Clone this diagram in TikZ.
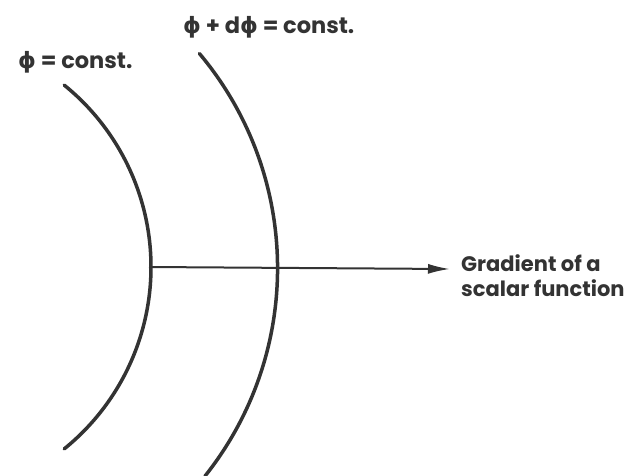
\documentclass[tikz,border=0pt]{standalone}
\usepackage{fontspec}
\setmainfont{Poppins}
\newfontfamily\gr{DejaVu Sans}
\usetikzlibrary{arrows.meta}
\definecolor{ink}{HTML}{333333}
\begin{document}
\begin{tikzpicture}[x=1pt,y=-1pt,
  surface/.style={draw=ink,line width=3.5pt,line cap=round},
  label/.style={text=ink,font=\fontsize{22.5}{25}\selectfont\bfseries,inner sep=0pt},
  grad/.style={draw=ink,line width=2pt,-{Latex[length=22pt,width=10pt]}}]
\useasboundingbox[fill=white] (0,0) rectangle (634,476);
% phi = const surface
\coordinate (c1) at (-83,267);
\draw[surface] (c1) ++(51:234) arc[start angle=51,end angle=-51,radius=234];
% phi + dphi surface
\coordinate (c2) at (-58,267);
\draw[surface] (c2) ++(38.5:336) arc[start angle=38.5,end angle=-40,radius=334];
\coordinate (a) at (149,267);
\coordinate (tip) at (450,269);
\draw[grad] (a) -- (tip);
\node[label,anchor=base west] (l1) at (18,69) {{\gr ϕ} = const.};
\node[label,anchor=base west] (l2) at (183,34) {{\gr ϕ} + d{\gr ϕ} = const.};
\node[label,font=\fontsize{21}{25}\selectfont\bfseries,anchor=base west,align=left] (l3) at (461,296) {Gradient of a\\scalar function};
\end{tikzpicture}
\end{document}
